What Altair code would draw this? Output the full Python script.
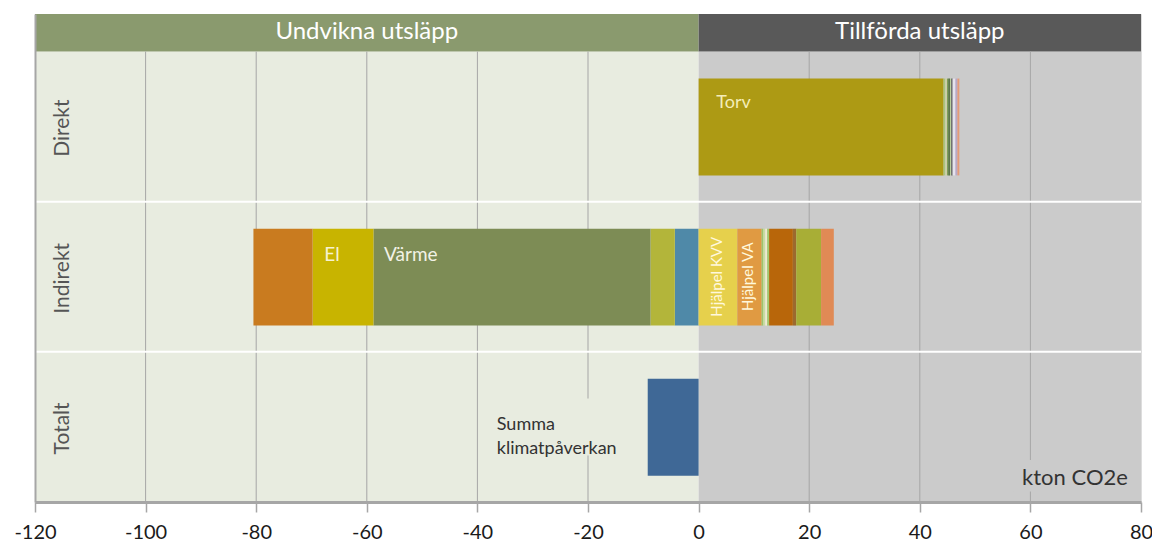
import altair as alt
import pandas as pd

FONT = "Lato"

# ---------------- data ----------------
rows = ["Direkt", "Indirekt", "Totalt"]
row_base = [2, 1, 0]

# Direkt (positive, stacked outward from zero)
direkt_values = [44.3, 0.35, 0.25, 0.25, 0.30, 0.20, 0.30, 0.50, 0.35, 0.35]
direkt_colors = ["#AD9A14", "#A9C47F", "#D8D5B0", "#7F9F5A", "#4F6B3A",
                 "#B9CF9A", "#6E6E6E", "#E6E2EE", "#B8A8C8", "#E59A78"]

# Indirekt, negative part (stacked outward from zero)
indirekt_neg_values = [-4.3, -4.4, -50.1, -11.0, -10.7]
indirekt_neg_colors = ["#4F89A8", "#B3B53A", "#7D8C55", "#C8B400", "#C97B1F"]

# Indirekt, positive part (stacked outward from zero)
indirekt_pos_values = [7.0, 4.4, 0.3, 0.35, 0.35, 0.35, 4.3, 0.6, 4.5, 2.3]
indirekt_pos_colors = ["#E6D04C", "#E09A42", "#9DC46A", "#C9DDA0", "#EFEBD0",
                       "#A4C870", "#B8660A", "#9C6A2E", "#A8AE36", "#E08A55"]

# Totalt
totalt_values = [-9.2]
totalt_colors = ["#3F6896"]

x_ticks = [-120, -100, -80, -60, -40, -20, 0, 20, 40, 60, 80]
grid_values = [-100, -80, -60, -40, -20, 20, 40, 60]

halves = ["Undvikna utsläpp", "Tillförda utsläpp"]
half_start = [-120, 0]
half_end = [0, 80]
half_bg = ["#E8ECE0", "#CBCBCB"]
half_head = ["#8A9A6E", "#595959"]

# --------------- build segments ---------------
def stack(values, colors, base):
    recs, acc = [], 0.0
    for v, c in zip(values, colors):
        recs.append({"x0": acc, "x1": acc + v, "y0": base + 0.175, "y1": base + 0.82, "color": c})
        acc += v
    return recs

segs = (stack(direkt_values, direkt_colors, row_base[0])
        + stack(indirekt_neg_values, indirekt_neg_colors, row_base[1])
        + stack(indirekt_pos_values, indirekt_pos_colors, row_base[1])
        + stack(totalt_values, totalt_colors, row_base[2]))
seg_df = pd.DataFrame(segs)

halves_df = pd.DataFrame({"name": halves, "x0": half_start, "x1": half_end,
                          "bg": half_bg, "head": half_head,
                          "xm": [(a + b) / 2 for a, b in zip(half_start, half_end)]})

x_scale = alt.Scale(domain=[-120, 80], nice=False, zero=False)
y_scale = alt.Scale(domain=[0, 3.25], nice=False, zero=False)

x_axis = alt.Axis(values=x_ticks, grid=False, title=None, domainColor="#A6A6A6",
                  domainWidth=3, tickColor="#A6A6A6", tickSize=10, tickWidth=1.5,
                  labelFont=FONT, labelFontSize=20, labelColor="#1a1a1a",
                  labelPadding=10, labelExpr="'' + datum.value", zindex=1,
                  labelFlush=False)
y_axis = alt.Axis(grid=False, title=None, labels=False, ticks=False,
                  domainColor="#A6A6A6", domainWidth=2, zindex=1)


def X(f):
    return alt.X(f, type="quantitative", scale=x_scale, axis=x_axis)


def Y(f):
    return alt.Y(f, type="quantitative", scale=y_scale, axis=y_axis)


base = alt.Chart(halves_df)

background = base.mark_rect().encode(
    x=X("x0"), x2="x1", y=alt.Y(datum=0, type="quantitative", scale=y_scale, axis=y_axis),
    y2=alt.Y2(datum=3), color=alt.Color("bg:N", scale=None))

header = base.mark_rect().encode(
    x=X("x0"), x2="x1", y=alt.Y(datum=3, type="quantitative", scale=y_scale, axis=y_axis),
    y2=alt.Y2(datum=3.25), color=alt.Color("head:N", scale=None))

header_text = base.mark_text(font=FONT, fontSize=24, color="#FFFFFF").encode(
    x=X("xm"), y=alt.Y(datum=3.127, type="quantitative", scale=y_scale, axis=y_axis),
    text="name:N")

grid_df = pd.DataFrame({"g": grid_values})
grid = alt.Chart(grid_df).mark_rule(color="#A6A6A6", strokeWidth=1).encode(
    x=X("g"), y=alt.Y(datum=0, type="quantitative", scale=y_scale, axis=y_axis),
    y2=alt.Y2(datum=3))

sep_df = pd.DataFrame({"s": [1, 2]})
separators = alt.Chart(sep_df).mark_rule(color="#FFFFFF", strokeWidth=2).encode(
    y=Y("s"), x=alt.X(datum=-120, type="quantitative", scale=x_scale, axis=x_axis),
    x2=alt.X2(datum=80))

bars = alt.Chart(seg_df).mark_rect().encode(
    x=X("x0"), x2="x1", y=Y("y0"), y2="y1", color=alt.Color("color:N", scale=None))

# label boxes that hide gridlines behind text
box_df = pd.DataFrame({"x0": [-37.5, 57.0], "x1": [-13.5, 80.0],
                       "y0": [0.31, 0.07], "y1": [0.69, 0.28],
                       "c": ["#E8ECE0", "#CBCBCB"]})
boxes = alt.Chart(box_df).mark_rect().encode(
    x=X("x0"), x2="x1", y=Y("y0"), y2="y1", color=alt.Color("c:N", scale=None))

# in-bar labels
torv = alt.Chart(pd.DataFrame({"t": ["Torv"], "x": [3.2], "y": [2.66]})).mark_text(
    font=FONT, fontSize=18, color="#F4EDB8", align="left").encode(x=X("x"), y=Y("y"), text="t:N")
el = alt.Chart(pd.DataFrame({"t": ["El"], "x": [-66.3], "y": [1.647]})).mark_text(
    font=FONT, fontSize=19, color="#F6F2D0", align="center").encode(x=X("x"), y=Y("y"), text="t:N")
varme = alt.Chart(pd.DataFrame({"t": ["Värme"], "x": [-56.9], "y": [1.647]})).mark_text(
    font=FONT, fontSize=19, color="#F2F2E6", align="left").encode(x=X("x"), y=Y("y"), text="t:N")

vert_df = pd.DataFrame({"t": ["Hjälpel KVV", "Hjälpel VA"], "x": [3.4, 9.0], "y": [1.5, 1.5]})
vert = alt.Chart(vert_df).mark_text(font=FONT, fontSize=15, color="#FFF8DC", angle=270,
                                    align="center", baseline="middle").encode(
    x=X("x"), y=Y("y"), text="t:N")

summa = alt.Chart(pd.DataFrame({"t": [["Summa", "klimatpåverkan"]], "x": [-36.5], "y": [0.513]})).mark_text(
    font=FONT, fontSize=18, color="#333333", align="left", baseline="middle", lineHeight=24).encode(
    x=X("x"), y=Y("y"), text="t")

unit = alt.Chart(pd.DataFrame({"t": ["kton CO2e"], "x": [58.5], "y": [0.16]})).mark_text(
    font=FONT, fontSize=22, color="#333333", align="left", baseline="middle").encode(
    x=X("x"), y=Y("y"), text="t:N")

row_df = pd.DataFrame({"t": rows, "x": [-115, -115, -115], "y": [b + 0.49 for b in row_base]})
row_labels = alt.Chart(row_df).mark_text(font=FONT, fontSize=21, color="#555555", angle=270,
                                         align="center", baseline="middle").encode(
    x=X("x"), y=Y("y"), text="t:N")

chart = alt.layer(background, header, grid, separators, boxes, bars, header_text,
                  torv, el, varme, vert, summa, unit, row_labels).properties(
    width=1106, height=488,
    autosize=alt.AutoSizeParams(type="none"),
    padding={"left": 27, "top": 6, "right": 11, "bottom": 40},
).configure_view(stroke=None).configure(background="#FFFFFF")

chart.save("out.html", embed_options={"renderer": "svg", "actions": False})
